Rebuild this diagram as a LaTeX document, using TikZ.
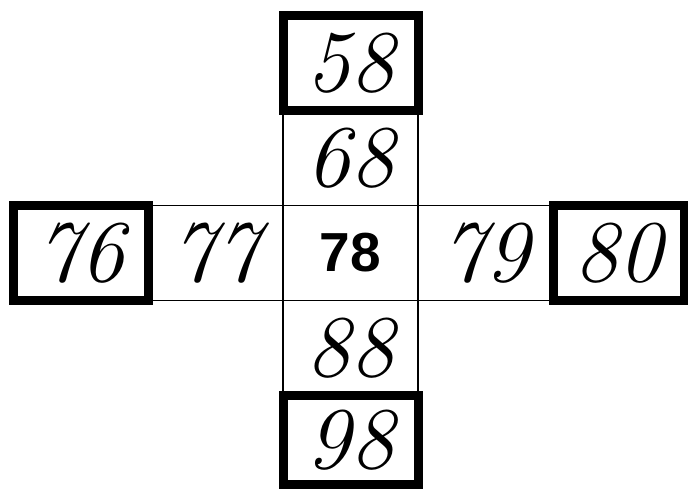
\documentclass[tikz,border=0pt]{standalone}
\usepackage{fontspec}
\newfontfamily\arialfont{Liberation Sans}
\usepackage{tikz}
\usetikzlibrary{positioning}

\begin{document}
\begin{tikzpicture}[
    x=1pt, y=1pt,
    cell/.style={draw, line width=1.6pt, inner sep=0pt, outer sep=0pt,
                 minimum width=135pt, minimum height=95pt,
                 font=\fontsize{88}{88}\selectfont\itshape},
    nbr/.style={cell, line width=9pt},
    mid/.style={cell, font=\fontsize{55}{55}\selectfont\arialfont\bfseries},
]
\useasboundingbox (0,0) rectangle (688,-493);
\node[mid] (c78) at (350.5,-253) {78};
% column
\node[cell] (c68) [above=0pt of c78] {68};
\node[cell] (c88) [below=0pt of c78] {88};
% row
\node[cell] (c77) [left=0pt of c78] {77};
\node[cell] (c79) [right=0pt of c78] {79};
% thick neighbour boxes
\node[nbr] (c58) [above=0pt of c68] {58};
\node[nbr, minimum height=89pt] (c98) [below=0pt of c88] {98};
\node[nbr] (c76) [left=0pt of c77] {76};
\node[nbr, minimum width=131pt] (c80) [right=0pt of c79] {80};
\end{tikzpicture}
\end{document}
